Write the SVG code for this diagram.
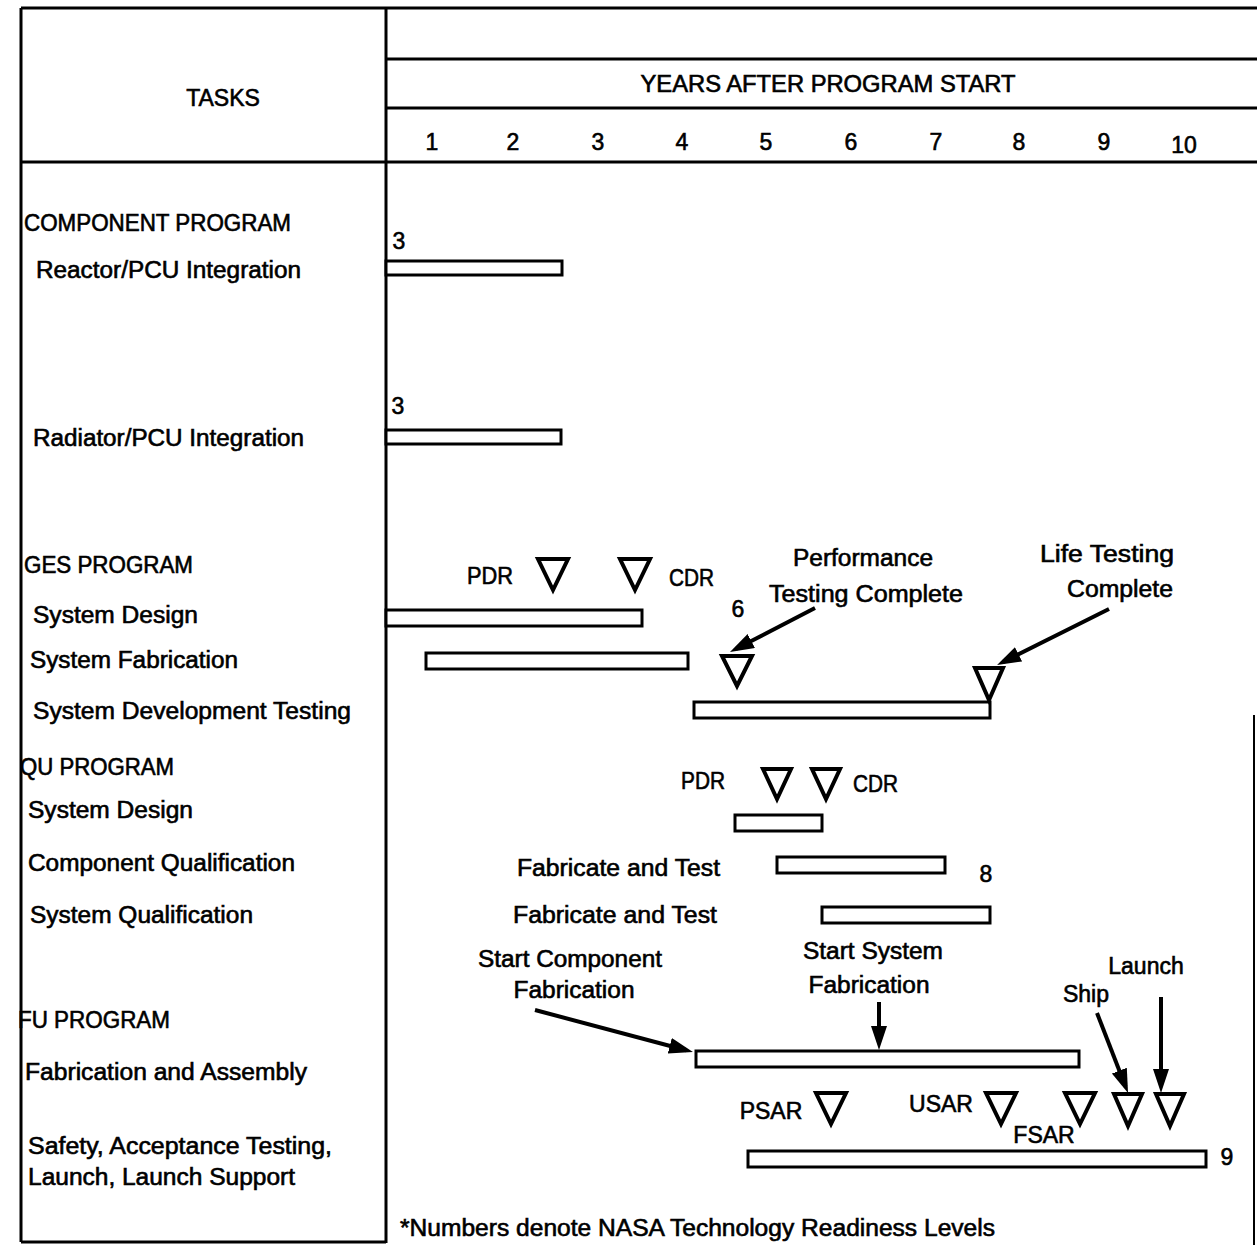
<svg xmlns="http://www.w3.org/2000/svg" width="1257" height="1245" viewBox="0 0 1257 1245">
<style>
text{font-family:"Liberation Sans",Arial,sans-serif;font-size:23px;fill:#000;stroke:#000;stroke-width:0.6}
.c{text-anchor:middle}
.grid{stroke:#000;stroke-width:3;fill:none}
.bar{fill:#fff;stroke:#000;stroke-width:3}
.tri{fill:#fff;stroke:#000;stroke-width:4;stroke-linejoin:miter}
.arr{stroke:#000;stroke-width:4;fill:none;marker-end:url(#ah)}
</style>
<defs>
<marker id="ah" markerUnits="userSpaceOnUse" markerWidth="26" markerHeight="18" refX="17" refY="8" orient="auto">
<path d="M0,0 L24,8 L0,16 z" fill="#000"/>
</marker>
</defs>
<rect width="1257" height="1245" fill="#fff"/>
<g id="frame" class="grid">
<line x1="21" y1="8" x2="1257" y2="8"/>
<line x1="21" y1="8" x2="21" y2="1242"/>
<line x1="386" y1="8" x2="386" y2="1243"/>
<line x1="386" y1="59" x2="1257" y2="59"/>
<line x1="386" y1="108" x2="1257" y2="108"/>
<line x1="21" y1="162" x2="1257" y2="162"/>
<line x1="21" y1="1242" x2="386" y2="1242"/>
<line x1="1254" y1="715" x2="1254" y2="1245" stroke-width="2"/>
</g>
<g id="header">
<text x="223" y="106" class="c">TASKS</text>
<text x="828" y="92" class="c" textLength="375" lengthAdjust="spacingAndGlyphs">YEARS AFTER PROGRAM START</text>
<text x="432" y="150" class="c">1</text>
<text x="513" y="150" class="c">2</text>
<text x="598" y="150" class="c">3</text>
<text x="682" y="150" class="c">4</text>
<text x="766" y="150" class="c">5</text>
<text x="851" y="150" class="c">6</text>
<text x="936" y="150" class="c">7</text>
<text x="1019" y="150" class="c">8</text>
<text x="1104" y="150" class="c">9</text>
<text x="1184" y="153" class="c">10</text>
</g>
<g id="tasks">
<text x="24" y="231" textLength="267" lengthAdjust="spacingAndGlyphs">COMPONENT PROGRAM</text>
<text x="36" y="278" textLength="265" lengthAdjust="spacingAndGlyphs">Reactor/PCU Integration</text>
<text x="33" y="446" textLength="271" lengthAdjust="spacingAndGlyphs">Radiator/PCU Integration</text>
<text x="24" y="573" textLength="169" lengthAdjust="spacingAndGlyphs">GES PROGRAM</text>
<text x="33" y="623" textLength="165" lengthAdjust="spacingAndGlyphs">System Design</text>
<text x="30" y="668" textLength="208" lengthAdjust="spacingAndGlyphs">System Fabrication</text>
<text x="33" y="719" textLength="318" lengthAdjust="spacingAndGlyphs">System Development Testing</text>
<text x="20" y="775" textLength="154" lengthAdjust="spacingAndGlyphs">QU PROGRAM</text>
<text x="28" y="818" textLength="165" lengthAdjust="spacingAndGlyphs">System Design</text>
<text x="28" y="871" textLength="267" lengthAdjust="spacingAndGlyphs">Component Qualification</text>
<text x="30" y="923" textLength="223" lengthAdjust="spacingAndGlyphs">System Qualification</text>
<text x="18" y="1028" textLength="152" lengthAdjust="spacingAndGlyphs">FU PROGRAM</text>
<text x="25" y="1080" textLength="282" lengthAdjust="spacingAndGlyphs">Fabrication and Assembly</text>
<text x="28" y="1154" textLength="304" lengthAdjust="spacingAndGlyphs">Safety, Acceptance Testing,</text>
<text x="28" y="1185" textLength="267" lengthAdjust="spacingAndGlyphs">Launch, Launch Support</text>
</g>
<g id="bars">
<rect class="bar" x="386" y="261" width="176" height="14"/>
<rect class="bar" x="386" y="430" width="175" height="14"/>
<rect class="bar" x="386" y="610" width="256" height="16"/>
<rect class="bar" x="426" y="653" width="262" height="16"/>
<rect class="bar" x="694" y="702" width="296" height="16"/>
<rect class="bar" x="735" y="815" width="87" height="16"/>
<rect class="bar" x="777" y="857" width="168" height="16"/>
<rect class="bar" x="822" y="907" width="168" height="16"/>
<rect class="bar" x="696" y="1051" width="383" height="16"/>
<rect class="bar" x="748" y="1151" width="458" height="16"/>
</g>
<g id="milestones">
<polygon class="tri" points="538,559 568,559 553,590"/>
<polygon class="tri" points="620,559 650,559 635,590"/>
<polygon class="tri" points="722,656 752,656 737,686"/>
<polygon class="tri" points="975,668 1003,668 989,700"/>
<polygon class="tri" points="763,769 791,769 777,799"/>
<polygon class="tri" points="812,769 840,769 826,799"/>
<polygon class="tri" points="816,1093 846,1093 831,1124"/>
<polygon class="tri" points="986,1093 1016,1093 1001,1124"/>
<polygon class="tri" points="1065,1093 1095,1093 1080,1124"/>
<polygon class="tri" points="1114,1094 1142,1094 1128,1126"/>
<polygon class="tri" points="1156,1094 1184,1094 1170,1126"/>
</g>
<g id="labels">
<text x="399" y="249" class="c">3</text>
<text x="398" y="414" class="c">3</text>
<text x="467" y="584" textLength="46" lengthAdjust="spacingAndGlyphs">PDR</text>
<text x="669" y="586" textLength="45" lengthAdjust="spacingAndGlyphs">CDR</text>
<text x="738" y="617" class="c">6</text>
<text x="863" y="566" class="c" textLength="140" lengthAdjust="spacingAndGlyphs">Performance</text>
<text x="866" y="602" class="c" textLength="194" lengthAdjust="spacingAndGlyphs">Testing Complete</text>
<text x="1107" y="562" class="c" textLength="134" lengthAdjust="spacingAndGlyphs">Life Testing</text>
<text x="1120" y="597" class="c" textLength="106" lengthAdjust="spacingAndGlyphs">Complete</text>
<text x="681" y="789" textLength="44" lengthAdjust="spacingAndGlyphs">PDR</text>
<text x="853" y="792" textLength="45" lengthAdjust="spacingAndGlyphs">CDR</text>
<text x="517" y="876" textLength="203" lengthAdjust="spacingAndGlyphs">Fabricate and Test</text>
<text x="986" y="882" class="c">8</text>
<text x="513" y="923" textLength="204" lengthAdjust="spacingAndGlyphs">Fabricate and Test</text>
<text x="570" y="967" class="c" textLength="184" lengthAdjust="spacingAndGlyphs">Start Component</text>
<text x="574" y="998" class="c" textLength="121" lengthAdjust="spacingAndGlyphs">Fabrication</text>
<text x="873" y="959" class="c" textLength="140" lengthAdjust="spacingAndGlyphs">Start System</text>
<text x="869" y="993" class="c" textLength="121" lengthAdjust="spacingAndGlyphs">Fabrication</text>
<text x="1146" y="974" class="c">Launch</text>
<text x="1086" y="1002" class="c">Ship</text>
<text x="771" y="1119" class="c">PSAR</text>
<text x="941" y="1112" class="c">USAR</text>
<text x="1044" y="1143" class="c">FSAR</text>
<text x="1227" y="1165" class="c">9</text>
<text x="400" y="1236" textLength="595" lengthAdjust="spacingAndGlyphs">*Numbers denote NASA Technology Readiness Levels</text>
</g>
<g id="connectors">
<line class="arr" x1="815" y1="608" x2="736.2" y2="648.8"/>
<line class="arr" x1="1109" y1="609" x2="1003.3" y2="661.9"/>
<line class="arr" x1="535" y1="1010" x2="686.2" y2="1050.2"/>
<line class="arr" x1="879" y1="1002" x2="879" y2="1043"/>
<line class="arr" x1="1097" y1="1013" x2="1125.5" y2="1086.5"/>
<line class="arr" x1="1161" y1="997" x2="1161" y2="1086"/>
</g>
</svg>
